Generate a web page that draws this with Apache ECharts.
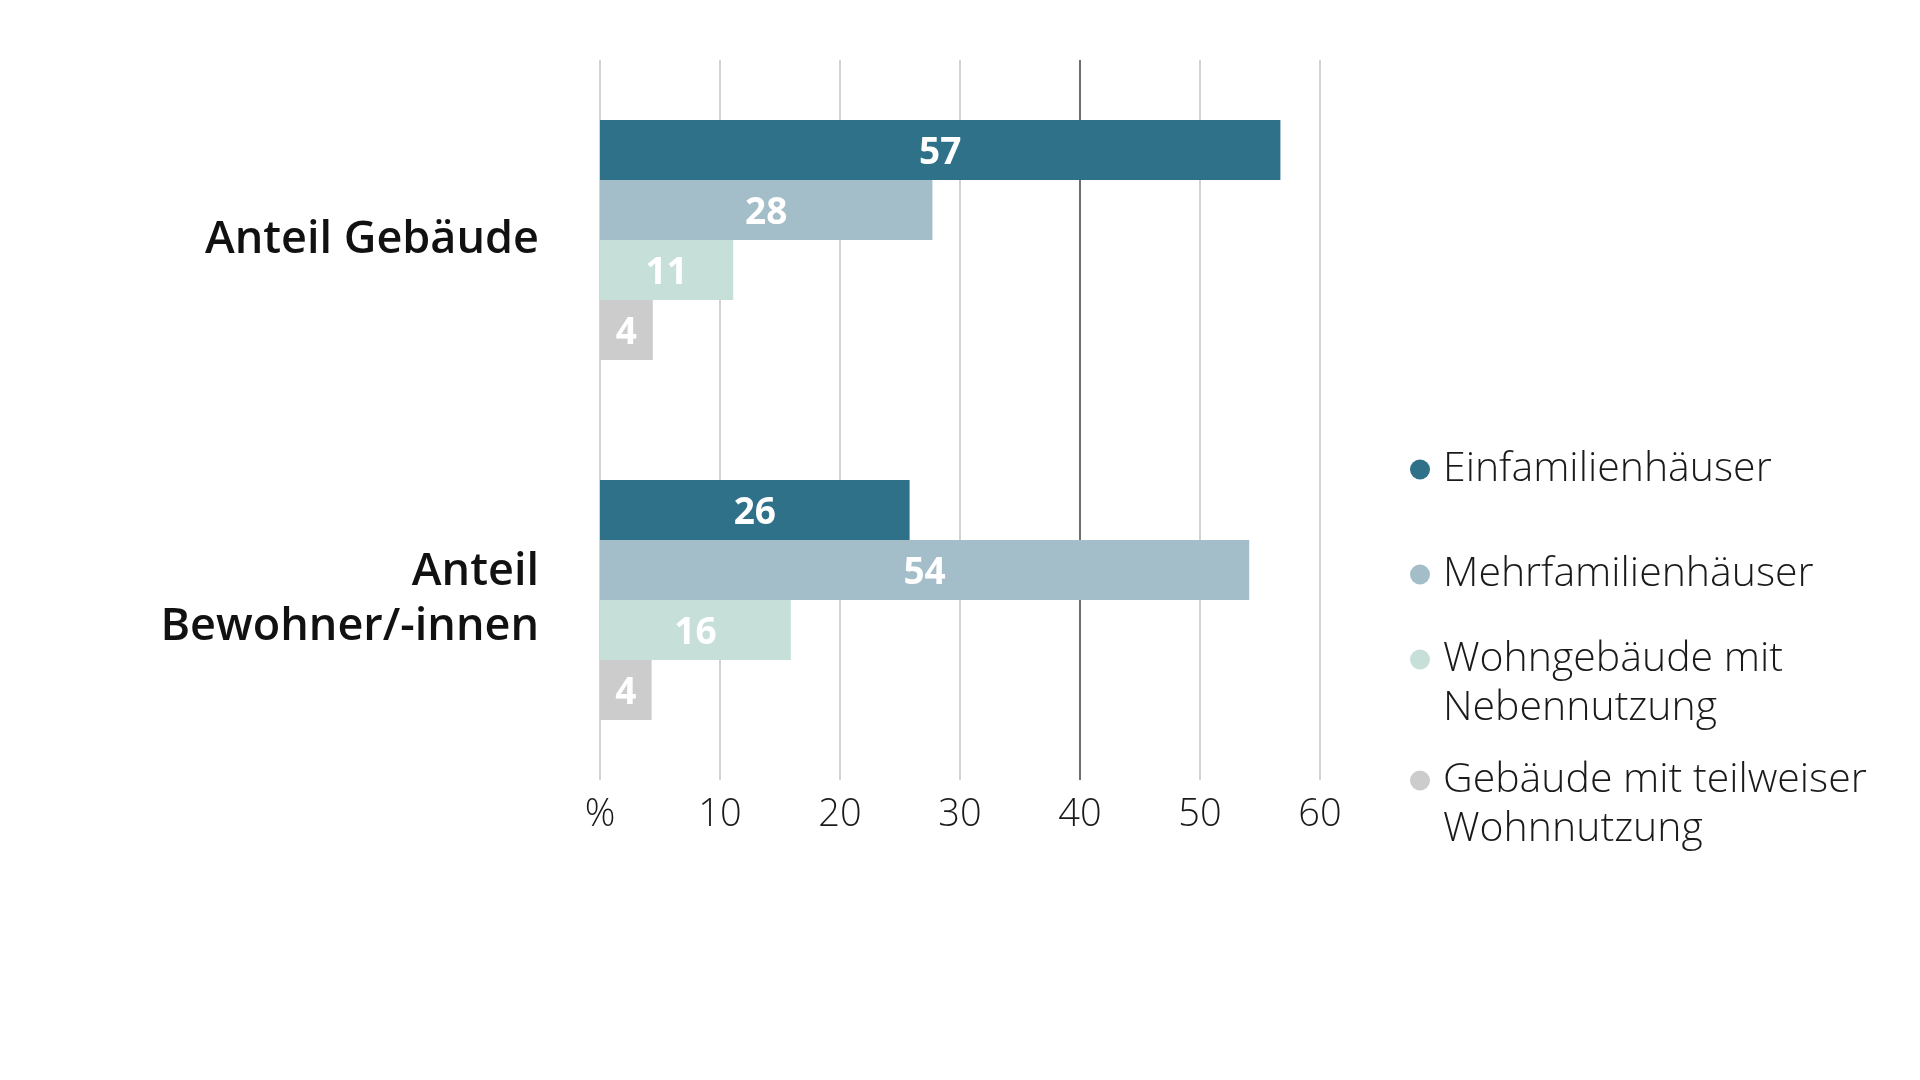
<!DOCTYPE html>
<html><head><meta charset="utf-8">
<script src="https://cdn.jsdelivr.net/npm/echarts@6/dist/echarts.min.js"></script>
<style>html,body{margin:0;padding:0;background:#fff}#c{width:1920px;height:1080px}</style>
</head><body><div id="c"></div>
<script>
// ---- data ----
const categories = ['Anteil Gebäude', 'Anteil\nBewohner/-innen'];
const seriesNames = ['Einfamilienhäuser', 'Mehrfamilienhäuser', 'Wohngebäude mit Nebennutzung', 'Gebäude mit teilweiser Wohnnutzung'];
const legendLabels = ['Einfamilienhäuser', 'Mehrfamilienhäuser', 'Wohngebäude mit\nNebennutzung', 'Gebäude mit teilweiser\nWohnnutzung'];
const einfamilienhaeuser = [56.7, 25.8];
const mehrfamilienhaeuser = [27.7, 54.1];
const nebennutzung = [11.1, 15.9];
const teilweiseWohnnutzung = [4.4, 4.3];
const xTickLabels = ['%', '10', '20', '30', '40', '50', '60'];

// ---- styling / layout ----
const colors = ['#2e7189', '#a3bec9', '#c6dfd8', '#cccccc'];
const FONT = '"Open Sans", "Noto Sans", sans-serif';
const legendTops = [445, 550, 586, 707];
const legendLineH = 49;

const seriesValues = [einfamilienhaeuser, mehrfamilienhaeuser, nebennutzung, teilweiseWohnnutzung];

const chart = echarts.init(document.getElementById('c'), null, {renderer: 'canvas'});

const series = seriesNames.map((name, i) => ({
  name: name,
  type: 'bar',
  data: seriesValues[i],
  barWidth: 60,
  barGap: '0%',
  itemStyle: {color: colors[i]},
  label: {
    show: true,
    position: 'inside',
    offset: [0, 3],
    color: '#ffffff',
    fontFamily: FONT,
    fontWeight: 700,
    fontSize: 37,
    formatter: p => String(Math.round(p.value))
  },
  emphasis: {disabled: true}
}));

// multi-line legend entries: a leading empty line keeps the first text line level with the dot
const legends = seriesNames.map((name, i) => {
  const multi = legendLabels[i].indexOf('\n') >= 0;
  return {
    data: [name],
    orient: 'vertical',
    left: 1410,
    top: legendTops[i],
    padding: 0,
    icon: 'circle',
    itemWidth: 20,
    itemHeight: 20,
    selectedMode: false,
    formatter: () => (multi ? '\n' : '') + legendLabels[i],
    textStyle: {
      fontFamily: FONT,
      fontWeight: 300,
      fontSize: 41,
      color: '#1a1a1a',
      lineHeight: legendLineH,
      padding: [0, 0, 0, 8]
    }
  };
});

chart.setOption({
  animation: false,
  backgroundColor: '#ffffff',
  color: colors,
  grid: {left: 600, right: 600, top: 60, bottom: 300, containLabel: false},
  legend: legends,
  xAxis: {
    type: 'value',
    min: 0,
    max: 60,
    interval: 10,
    position: 'bottom',
    axisLine: {show: false},
    axisTick: {show: false},
    axisLabel: {
      margin: 16,
      fontFamily: FONT,
      fontWeight: 300,
      fontSize: 38,
      color: '#1a1a1a',
      formatter: v => xTickLabels[Math.round(v / 10)]
    },
    splitLine: {
      show: true,
      lineStyle: {
        width: 1.6,
        color: ['#c8c8c8', '#c8c8c8', '#c8c8c8', '#c8c8c8', '#4a4a4a', '#c8c8c8', '#c8c8c8']
      }
    }
  },
  yAxis: {
    type: 'category',
    data: categories,
    inverse: true,
    axisLine: {show: false},
    axisTick: {show: false},
    splitLine: {show: false},
    axisLabel: {
      margin: 61,
      fontFamily: FONT,
      fontWeight: 600,
      fontSize: 45,
      lineHeight: 55,
      padding: [15, 0, 0, 0],
      color: '#111111',
      align: 'right'
    }
  },
  series: series
});
</script>
</body></html>
